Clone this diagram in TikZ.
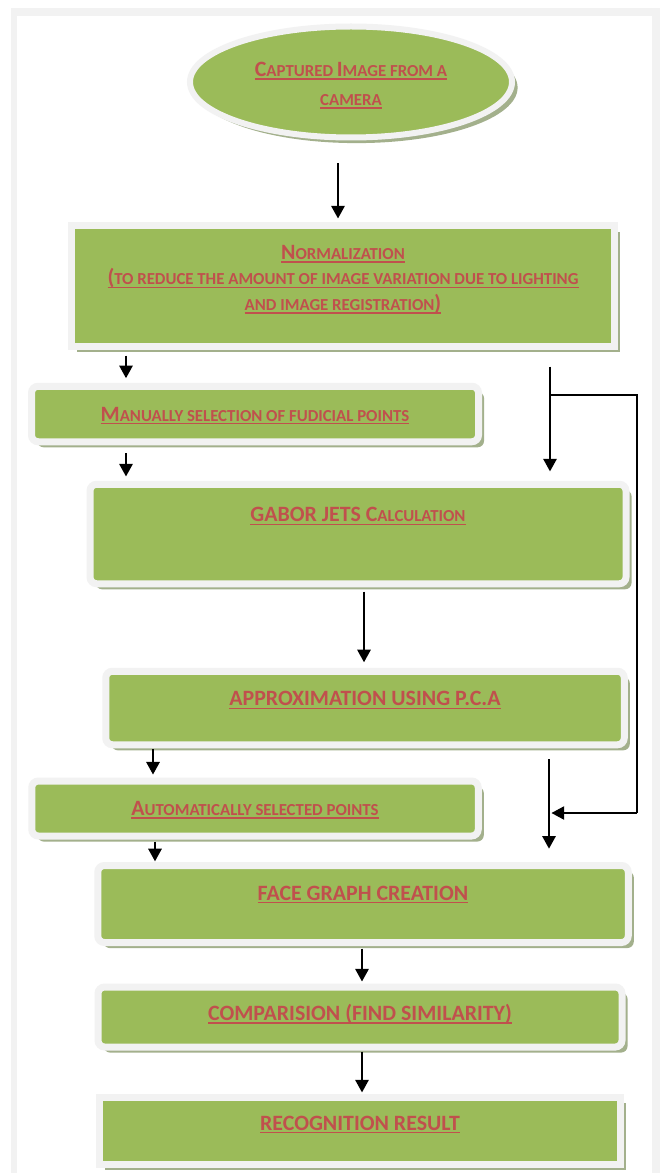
\documentclass[tikz,border=0pt]{standalone}
\usepackage{fontspec}
\setmainfont{Carlito}
\usetikzlibrary{arrows.meta,shapes.geometric,shadows}

\definecolor{boxgreen}{RGB}{155,187,89}
\definecolor{txtred}{RGB}{192,80,77}
\definecolor{bandgray}{RGB}{242,242,242}
\definecolor{shadowgreen}{RGB}{163,176,140}

\newcommand\capfirst[1]{{\fontsize{16.4pt}{19pt}\selectfont #1}}
\newcommand\undl[1]{\setbox0\hbox{#1}\rlap{\rule[-2.6pt]{\wd0}{1.2pt}}\box0}

\tikzset{flowbox/.style={
    % The shape:
    rectangle,
    rounded corners=5pt,
    % The size:
    inner sep=0pt,
    % The border:
    line width=5.25pt,
    draw=bandgray,
    % The filling:
    fill=boxgreen,
    drop shadow={shadow xshift=4.2pt,shadow yshift=-4.2pt,fill=shadowgreen,opacity=1},
    % Font
    font=\fontsize{12.6pt}{19.1pt}\selectfont\bfseries,
    text=txtred,
    align=center,
    },
    flatbox/.style={
    flowbox,
    sharp corners,
    },
    startoval/.style={
    flowbox,
    ellipse,
    line width=4.5pt,
    font=\fontsize{12.6pt}{21.75pt}\selectfont\bfseries,
    },
    boxsize/.style 2 args={
    minimum width=#1*0.75pt,
    minimum height=#2*0.75pt,
    },
    arr/.style={
    -{Triangle[length=9.5pt,width=10pt]},
    line width=1.6pt,
    },
    link/.style={
    line width=1pt,
    },
}

\begin{document}
\begin{tikzpicture}[x=0.75pt,y=-0.75pt]
    \useasboundingbox (0,0) rectangle (660,1173);
    % page frame
    \fill[bandgray] (11,8) rectangle (660,1185);
    \fill[white] (17,16) rectangle (652,1185);

    \node (cam)    [startoval,boxsize={322}{111},text height=10.5pt,text depth=0.2pt] at (351,82)
        {\begin{tabular}{@{}c@{}}
         \undl{\capfirst{C}APTURED \capfirst{I}MAGE FROM A}\\
         \undl{CAMERA}
         \end{tabular}};
    \node (norm)   [flatbox,boxsize={543}{120},text height=10.5pt,text depth=14.1pt] at (343,286)
        {\begin{tabular}{@{}c@{}}
         \undl{\capfirst{N}ORMALIZATION}\\
         \undl{\capfirst{(}TO REDUCE THE AMOUNT OF IMAGE VARIATION DUE TO LIGHTING}\\
         \undl{AND IMAGE REGISTRATION\capfirst{)}}
         \end{tabular}};
    \node (manual) [flowbox,boxsize={447}{55.5},text height=10.5pt,text depth=0pt] at (255,414)
        {\undl{\capfirst{M}ANUALLY SELECTION OF FUDICIAL POINTS}};
    \node (gabor)  [flowbox,boxsize={536}{99.5},text height=10.5pt,text depth=29pt] at (358,534)
        {\undl{\capfirst{GABOR JETS C}ALCULATION}};
    \node (pca)    [flowbox,boxsize={518.5}{73.5},text height=10.5pt,text depth=13.9pt] at (365,708)
        {\undl{\capfirst{APPROXIMATION USING P.C.A}}};
    \node (auto)   [flowbox,boxsize={446.5}{55},text height=10.5pt,text depth=0pt] at (255,808.5)
        {\undl{\capfirst{A}UTOMATICALLY SELECTED POINTS}};
    \node (graph)  [flowbox,boxsize={530.5}{77},text height=10.5pt,text depth=16.5pt] at (363,904)
        {\undl{\capfirst{FACE GRAPH CREATION}}};
    \node (compare)[flowbox,boxsize={524}{60},text height=10.5pt,text depth=5.25pt] at (360,1017)
        {\undl{\capfirst{COMPARISION (FIND SIMILARITY)}}};
    \node (result) [flatbox,boxsize={521.5}{67},text height=10.5pt,text depth=11.25pt] at (360,1130.5)
        {\undl{\capfirst{RECOGNITION RESULT}}};

    % main flow
    \draw[arr,shorten <=16.9pt,shorten >=3pt]   (cam.south -| 338,0)    -- (norm.north -| 338,0);
    \draw[arr,shorten <=4.5pt,shorten >=3.4pt]  (norm.south -| 126,0)   -- (manual.north -| 126,0);
    \draw[arr,shorten <=6pt,shorten >=3.2pt]    (manual.south -| 126,0) -- (gabor.north -| 126,0);
    \draw[arr,shorten <=3.2pt,shorten >=4.1pt]  (gabor.south -| 364,0)  -- (pca.north -| 364,0);
    \draw[arr,shorten <=0.8pt,shorten >=2.2pt]  (pca.south -| 153,0)    -- (auto.north -| 153,0);
    \draw[arr,shorten <=1.5pt,shorten >=0.5pt]  (auto.south -| 155,0)   -- (graph.north -| 155,0);
    \draw[arr,shorten <=1.9pt,shorten >=1.5pt]  (graph.south -| 362,0)  -- (compare.north -| 362,0);
    \draw[arr,shorten <=0.8pt,shorten >=0.8pt]  (compare.south -| 362,0) -- (result.north -| 362,0);

    % right hand side
    \draw[arr,shorten <=12.75pt,shorten >=7pt]  (norm.south -| 550,0)   -- (gabor.north -| 550,0);
    \draw[arr,shorten <=8.25pt,shorten >=10pt]  (pca.south -| 549,0)    -- (graph.north -| 549,0);
    \coordinate (tap)  at (550,395);
    \coordinate (turn) at (637,813);
    \coordinate (join) at (551.5,813);
    \draw[link] (tap) -| (turn);
    \draw[link,-{Triangle[length=9.5pt,width=10pt]}] (turn) -- (join);
\end{tikzpicture}
\end{document}
